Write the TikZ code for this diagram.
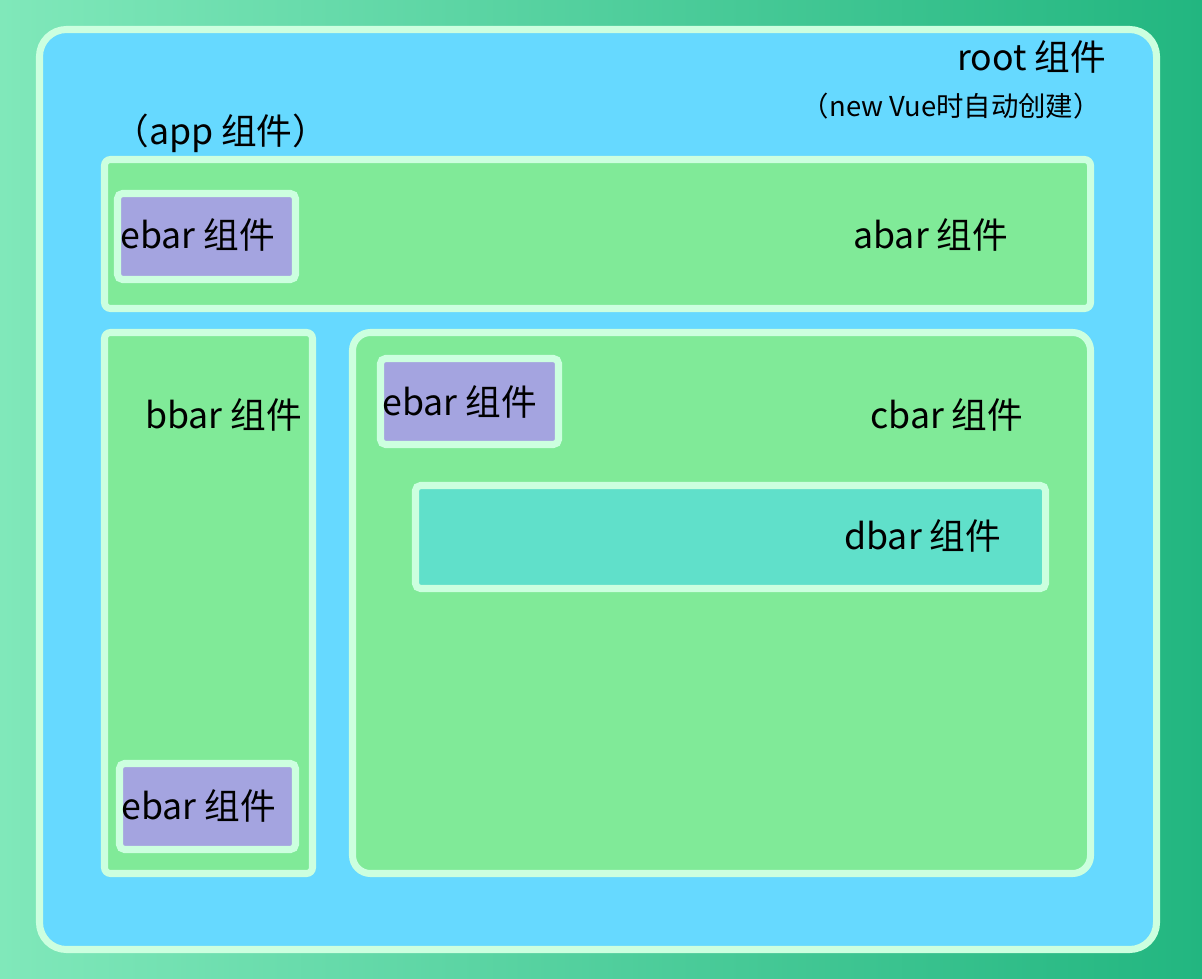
\documentclass[tikz,border=0pt]{standalone}
\usepackage{fontspec}
\setmainfont{Noto Sans CJK SC}
\definecolor{bgleft}{HTML}{80E8BA}
\definecolor{bgright}{HTML}{22B680}
\definecolor{rootblue}{HTML}{66D9FF}
\definecolor{edgemint}{HTML}{CCFFDF}
\definecolor{bargreen}{HTML}{80EA98}
\definecolor{ebarpurple}{HTML}{A4A4E0}
\definecolor{dbarteal}{HTML}{60E0CA}
\tikzset{
	box/.style={draw=edgemint, line width=4pt},
	txt/.style={anchor=base west, inner sep=0pt, font=\fontsize{20.3}{24}\selectfont},
	smalltxt/.style={anchor=base east, inner sep=0pt, font=\fontsize{15.6}{19}\selectfont}
}

\begin{document}
\begin{tikzpicture}[x=0.02cm, y=-0.02cm]

\useasboundingbox (0, 0) rectangle (1202, 979);
\shade[left color=bgleft, right color=bgright] (0, 0) rectangle (1202, 979);

% root
\draw[box, fill=rootblue, rounded corners=0.54cm] (39.5, 29.5) rectangle (1156.5, 949.5);
\node[txt] (root) at (957, 71) {root 组件};
\node[smalltxt] (rootnote) at (1101, 117) {（new Vue时自动创建）};
\node[txt] (app) at (113, 145) {（app 组件）};

% abar
\draw[box, fill=bargreen, rounded corners=0.12cm] (104.5, 159.5) rectangle (1090.5, 308.5);
\node[txt] (abar) at (853, 249) {abar 组件};
\draw[box, fill=ebarpurple, rounded corners=0.1cm] (117.5, 193.5) rectangle (295.5, 279.5);
\node[txt] (ebarA) at (120, 249) {ebar 组件};

% bbar
\draw[box, fill=bargreen, rounded corners=0.12cm] (104.5, 332.5) rectangle (312.5, 873.5);
\node[txt] (bbar) at (145, 428) {bbar 组件};
\draw[box, fill=ebarpurple, rounded corners=0.1cm] (119.5, 763.5) rectangle (295.5, 849.5);
\node[txt] (ebarB) at (121, 819) {ebar 组件};

% cbar
\draw[box, fill=bargreen, rounded corners=0.36cm] (352.5, 332.5) rectangle (1090.5, 873.5);
\node[txt] (cbar) at (870, 428) {cbar 组件};
\draw[box, fill=ebarpurple, rounded corners=0.1cm] (380.5, 358.5) rectangle (558.5, 444.5);
\node[txt] (ebarC) at (382, 415) {ebar 组件};

% dbar
\draw[box, fill=dbarteal, rounded corners=0.1cm] (415.5, 485.5) rectangle (1045.5, 588.5);
\node[txt] (dbar) at (844, 549) {dbar 组件};

\end{tikzpicture}
\end{document}
